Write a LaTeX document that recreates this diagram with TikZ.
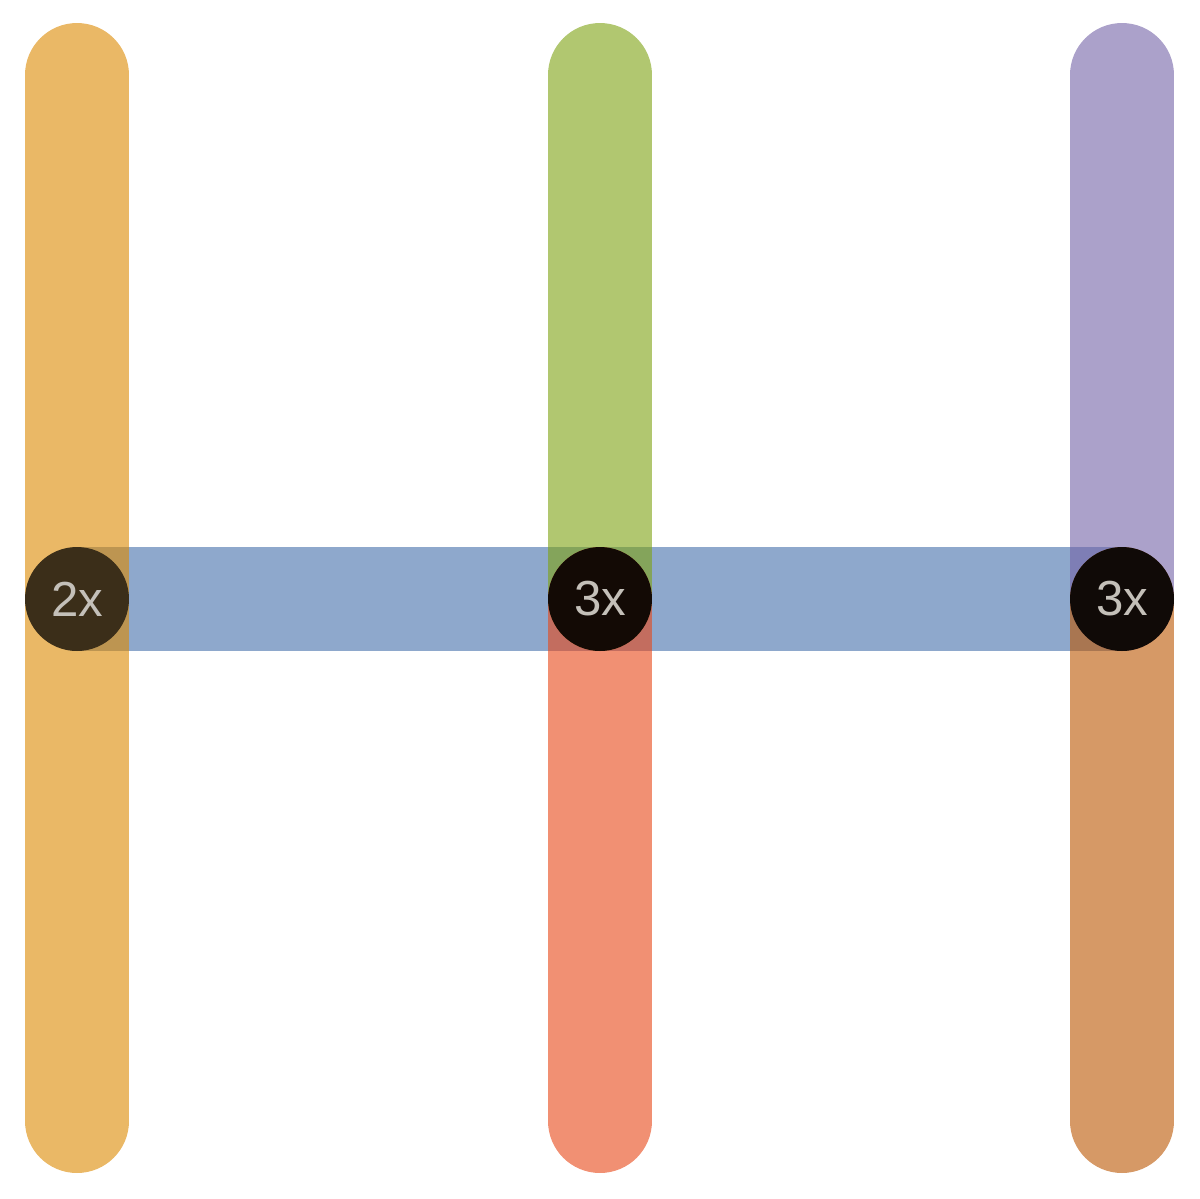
\documentclass[tikz,border=0pt]{standalone}
\usepackage{fontspec}
\setsansfont{Liberation Sans}
\usetikzlibrary{positioning}
\definecolor{lineblue}{RGB}{67,110,170}
\definecolor{lineorange}{RGB}{220,137,0}
\definecolor{linegreen}{RGB}{125,162,17}
\definecolor{linepurple}{RGB}{115,98,167}
\definecolor{linered}{RGB}{232,70,22}
\definecolor{linebrown}{RGB}{187,85,0}
\definecolor{labelgray}{RGB}{196,192,185}
\begin{document}
\begin{tikzpicture}[x=0.02cm,y=-0.02cm]
        \tikzset{route_edge/.style = {line width=2.08cm,opacity=0.6,line cap=round}}
        \tikzset{stop_node/.style = {circle,fill=black,minimum size=2.08cm,inner sep=0pt,text=labelgray,font=\sffamily\fontsize{28}{28}\selectfont}}
        \useasboundingbox (0,0) rectangle (1200,1198);

        \coordinate (c1) at (77,599);
        \coordinate (c2) at (600,599);
        \coordinate (c3) at (1122,599);
        \coordinate (t1) at (77,75);
        \coordinate (b1) at (77,1121);
        \coordinate (t2) at (600,75);
        \coordinate (b2) at (600,1121);
        \coordinate (t3) at (1122,75);
        \coordinate (b3) at (1122,1121);

        \draw[route_edge,color=lineblue] (c1) -- (c2) -- (c3);
        \draw[route_edge,color=lineorange] (t1) -- (b1);
        \draw[route_edge,color=linegreen] (t2) -- (c2);
        \draw[route_edge,color=linered] (c2) -- (b2);
        \draw[route_edge,color=linepurple] (t3) -- (c3);
        \draw[route_edge,color=linebrown] (c3) -- (b3);

        \node[stop_node,fill opacity=0.69,text opacity=1] (s1) at (c1) {2x};
        \node[stop_node,fill opacity=0.9,text opacity=1] (s2) at (c2) {3x};
        \node[stop_node,fill opacity=0.9,text opacity=1] (s3) at (c3) {3x};
    \end{tikzpicture}
\end{document}
